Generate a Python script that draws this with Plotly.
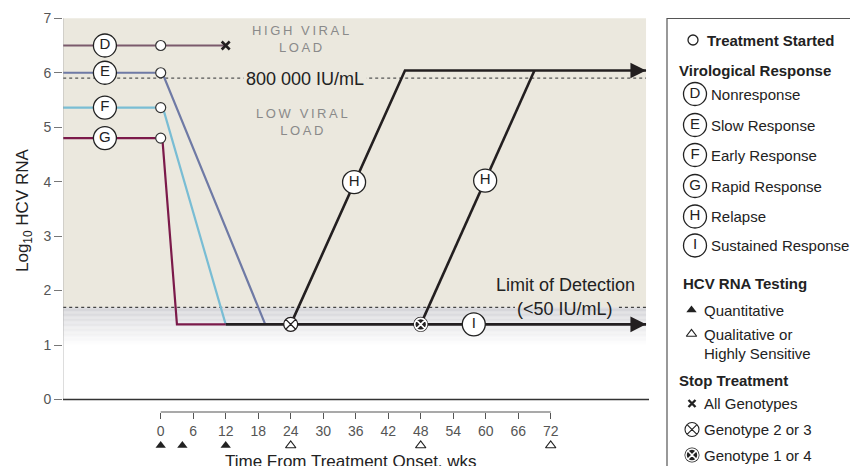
import plotly.graph_objects as go
import numpy as np

# ---------------- data ----------------
x_ticks = [0, 6, 12, 18, 24, 30, 36, 42, 48, 54, 60, 66, 72]
y_ticks = [0, 1, 2, 3, 4, 5, 6, 7]
quant_tests = [0, 4, 12]
qual_tests = [24, 48, 72]

start_week = -18.0
end_week = 89.6
undetect = 1.38
high_plateau = 6.04
viral_threshold = 5.9      # 800 000 IU/mL
detect_limit = 1.69        # <50 IU/mL

D_x = [start_week, 12.0]; D_y = [6.5, 6.5]
E_x = [start_week, 0.3, 19.3]; E_y = [6.0, 6.0, undetect]
F_x = [start_week, 0.4, 12.0]; F_y = [5.36, 5.36, undetect]
G_x = [start_week, 0.3, 3.0, 12.0]; G_y = [4.8, 4.8, undetect, undetect]
base_x = [12.0, end_week]; base_y = [undetect, undetect]
H1_x = [24.0, 45.1, end_week]; H1_y = [undetect, high_plateau, high_plateau]
H2_x = [48.0, 69.0]; H2_y = [undetect, high_plateau]

start_y = [6.5, 6.0, 5.36, 4.8]
letters_left = ["D", "E", "F", "G"]
letter_week = -10.3
H_label_x = [35.7, 59.9]; H_label_y = [3.99, 4.02]
I_label = (57.8, undetect)
stop_open = (24.0, undetect)
stop_filled = (48.0, undetect)
stop_all = (12.0, 6.5)

leg_letters = ["D", "E", "F", "G", "H", "I"]
leg_names = ["Nonresponse", "Slow Response", "Early Response", "Rapid Response",
             "Relapse", "Sustained Response"]

colD = "#7b5a6c"; colE = "#6f7aa5"; colF = "#79bdd4"; colG = "#7b1a4a"
BLACK = "#231f20"
BEIGE = "#ebe8de"
FONT = "Liberation Sans"

# ---------------- geometry helpers (reference pixel -> figure) ----------------
OFF = 8                      # page body margin
FW, FH = 858 - OFF, 466 - OFF
def fx(px): return (px - OFF) / FW
def fy(py): return (FH - (py - OFF)) / FH
def DX(px): return (px - 160.7) / 5.4167
def DY(py): return (399.5 - py) / 54.46

xr = [DX(63), DX(649)]
yr = [DY(466), DY(18)]

fig = go.Figure()
shapes = []
ann = []

# background regions
shapes.append(dict(type="rect", xref="x", yref="y", x0=start_week, x1=end_week,
                   y0=detect_limit, y1=7, fillcolor=BEIGE, line_width=0, layer="below"))
n = 30
top_c = np.array([212, 212, 216]); bot_c = np.array([255, 255, 255])
for i in range(n):
    y0 = detect_limit - (detect_limit - 1.0) * (i + 1) / n
    y1 = detect_limit - (detect_limit - 1.0) * i / n
    t = (i + 0.5) / n
    c = (top_c * (1 - t) + bot_c * t).astype(int)
    shapes.append(dict(type="rect", xref="x", yref="y", x0=start_week, x1=end_week,
                       y0=y0, y1=y1, fillcolor=f"rgb({c[0]},{c[1]},{c[2]})",
                       line_width=0, layer="below"))

# dotted reference lines
shapes.append(dict(type="line", xref="x", yref="y", x0=start_week, x1=end_week,
                   y0=viral_threshold, y1=viral_threshold,
                   line=dict(color="#555", width=1.2, dash="dot"), layer="below"))
shapes.append(dict(type="line", xref="x", yref="y", x0=start_week, x1=65.4,
                   y0=detect_limit, y1=detect_limit,
                   line=dict(color="#444", width=1.3, dash="dot"), layer="below"))
shapes.append(dict(type="line", xref="x", yref="y", x0=84.6, x1=end_week,
                   y0=detect_limit, y1=detect_limit,
                   line=dict(color="#444", width=1.3, dash="dot"), layer="below"))

# axes lines
shapes.append(dict(type="line", xref="x", yref="y", x0=DX(62.5), x1=DX(62.5), y0=0, y1=7,
                   line=dict(color="#777", width=1.5)))
shapes.append(dict(type="line", xref="x", yref="y", x0=DX(62), x1=DX(649), y0=0, y1=0,
                   line=dict(color="#333", width=1.3)))
shapes.append(dict(type="line", xref="x", yref="y", x0=0, x1=72, y0=DY(412), y1=DY(412),
                   line=dict(color="#555", width=1.2)))

# legend box (reference pixel coords on overlay axes)
shapes.append(dict(type="rect", xref="x2", yref="y2", x0=667, x1=880, y0=18.5, y1=480,
                   line=dict(color="#555", width=1.2), fillcolor="rgba(0,0,0,0)"))

# ---------------- lines ----------------
def line(x, y, c, w=2.2):
    fig.add_trace(go.Scatter(x=x, y=y, mode="lines", line=dict(color=c, width=w),
                             hoverinfo="skip", showlegend=False))

line(D_x, D_y, colD)
line(E_x, E_y, colE)
line(F_x, F_y, colF)
line(G_x, G_y, colG)
line(base_x, base_y, BLACK, 2.6)
line(H1_x, H1_y, BLACK, 2.6)
line(H2_x, H2_y, BLACK, 2.6)

# arrowheads
for yy in [high_plateau, undetect]:
    ann.append(dict(x=end_week, y=yy, ax=end_week - 3, ay=yy, xref="x", yref="y",
                    axref="x", ayref="y", showarrow=True, arrowhead=2, arrowsize=1.3,
                    arrowwidth=2.4, arrowcolor=BLACK, text=""))

# treatment start circles
fig.add_trace(go.Scatter(x=[0, 0, 0, 0], y=start_y, mode="markers",
                         marker=dict(size=10, color="white", line=dict(color="#333", width=1.2)),
                         hoverinfo="skip", showlegend=False))

def letter_markers(xs, ys, labels, size=23, fs=15, xa="x", ya="y"):
    fig.add_trace(go.Scatter(x=xs, y=ys, mode="markers+text", text=labels,
                             textposition="middle center",
                             textfont=dict(family=FONT, size=fs, color="#222"),
                             marker=dict(size=size, color="white", line=dict(color="#222", width=1.3)),
                             hoverinfo="skip", showlegend=False, cliponaxis=False,
                             xaxis=xa, yaxis=ya))

letter_markers([letter_week] * 4, start_y, letters_left)
letter_markers(H_label_x, H_label_y, ["H", "H"])
letter_markers([I_label[0]], [I_label[1]], ["I"])

def mk(xs, ys, marker, xa="x", ya="y"):
    fig.add_trace(go.Scatter(x=xs, y=ys, mode="markers", marker=marker,
                             hoverinfo="skip", showlegend=False, cliponaxis=False,
                             xaxis=xa, yaxis=ya))

# stop markers
mk([stop_all[0]], [stop_all[1]], dict(symbol="x-thin", size=8, line=dict(color=BLACK, width=2.6)))
mk([stop_open[0]], [stop_open[1]], dict(symbol="circle-x", size=14, color="white",
                                        line=dict(color=BLACK, width=1.3)))
mk([stop_filled[0]], [stop_filled[1]], dict(symbol="circle", size=15, color=BLACK))
mk([stop_filled[0]], [stop_filled[1]], dict(symbol="circle-x", size=12, color=BLACK,
                                            line=dict(color="white", width=1.6)))

# testing triangles under the axis
tri_y = DY(445.5)
mk(quant_tests, [tri_y] * len(quant_tests),
   dict(symbol="triangle-up", size=9, color="#222", line_width=0))
mk(qual_tests, [tri_y] * len(qual_tests),
   dict(symbol="triangle-up-open", size=9, color="#222", line=dict(width=1.2, color="#222")))

# ---------------- in-plot text ----------------
TS = "\u2009"
def spaced(s):
    return TS.join(list(s))

ann.append(dict(x=DX(300), y=DY(38.5), xref="x", yref="y", showarrow=False,
                text=spaced("HIGH VIRAL") + "<br>" + spaced("LOAD"),
                font=dict(family=FONT, size=13, color="#8a8a8a")))
ann.append(dict(x=DX(302), y=DY(122), xref="x", yref="y", showarrow=False,
                text=spaced("LOW VIRAL") + "<br>" + spaced("LOAD"),
                font=dict(family=FONT, size=13, color="#8a8a8a")))
ann.append(dict(x=DX(304.5), y=DY(79), xref="x", yref="y", showarrow=False,
                text="800 000 IU/mL", bgcolor=BEIGE, borderpad=2,
                font=dict(family=FONT, size=18, color="#222")))
ann.append(dict(x=DX(565), y=DY(285), xref="x", yref="y", showarrow=False,
                text="Limit of Detection", font=dict(family=FONT, size=18, color="#222")))
ann.append(dict(x=DX(564.5), y=DY(308.5), xref="x", yref="y", showarrow=False,
                text="(&lt;50 IU/mL)", font=dict(family=FONT, size=18, color="#222")))

# axis titles
ann.append(dict(x=24, y=210, xref="x2", yref="y2", showarrow=False,
                text="Log<sub>10</sub> HCV RNA", textangle=-90,
                font=dict(family=FONT, size=17, color="#222")))
ann.append(dict(x=351, y=461, xref="x2", yref="y2", showarrow=False,
                text="Time From Treatment Onset, wks",
                font=dict(family=FONT, size=17, color="#222")))

# ---------------- legend ----------------
def ltext(px, py, s, bold=False, size=15):
    ann.append(dict(x=px, y=py, xref="x2", yref="y2", showarrow=False,
                    xanchor="left", yanchor="middle",
                    text=("<b>%s</b>" % s) if bold else s,
                    font=dict(family=FONT, size=size, color="#222")))

mk([693], [40], dict(size=10, color="white", line=dict(color="#222", width=1.3)), "x2", "y2")
ltext(705, 40, "Treatment Started", bold=True)
ltext(677, 70, "Virological Response", bold=True)
leg_y = [94, 125, 155, 186, 216.5, 245.5]
letter_markers([695] * 6, leg_y, leg_letters, size=23, fs=15, xa="x2", ya="y2")
for name, yy in zip(leg_names, leg_y):
    ltext(709, yy, name)

ltext(681, 283.5, "HCV RNA Testing", bold=True)
mk([691.5], [310], dict(symbol="triangle-up", size=9, color="#222", line_width=0), "x2", "y2")
mk([691.5], [334], dict(symbol="triangle-up-open", size=9, color="#222",
                        line=dict(width=1.2, color="#222")), "x2", "y2")
ltext(702, 310, "Quantitative")
ltext(702, 334, "Qualitative or")
ltext(702, 353.5, "Highly Sensitive")

ltext(677, 380, "Stop Treatment", bold=True)
mk([692], [403.5], dict(symbol="x-thin", size=7, line=dict(color="#222", width=2.4)), "x2", "y2")
mk([692], [429.5], dict(symbol="circle-x", size=14, color="white",
                        line=dict(color="#222", width=1.1)), "x2", "y2")
mk([692], [455], dict(symbol="circle", size=15, color="#222"), "x2", "y2")
mk([692], [455], dict(symbol="circle-x", size=12, color="#222",
                      line=dict(color="white", width=1.6)), "x2", "y2")
ltext(702, 403.5, "All Genotypes")
ltext(702, 429.5, "Genotype 2 or 3")
ltext(702, 455, "Genotype 1 or 4")

fig.update_layout(
    width=FW, height=FH,
    margin=dict(l=0, r=0, t=0, b=0, pad=0, autoexpand=False),
    paper_bgcolor="white", plot_bgcolor="rgba(0,0,0,0)",
    shapes=shapes, annotations=ann,
    xaxis=dict(domain=[fx(63), fx(649)], range=xr, anchor="free", position=fy(412),
               tickvals=x_ticks, ticktext=[str(v) for v in x_ticks],
               ticks="outside", ticklen=6, tickcolor="#555", tickwidth=1.2,
               showgrid=False, zeroline=False, showline=False, automargin=False,
               tickfont=dict(family=FONT, size=14, color="#555")),
    yaxis=dict(domain=[0, fy(18)], range=yr, anchor="x",
               tickvals=y_ticks, ticktext=[str(v) for v in y_ticks],
               ticks="outside", ticklen=8, tickcolor="#777", tickwidth=1.3,
               showgrid=False, zeroline=False, showline=False, automargin=False,
               tickfont=dict(family=FONT, size=14, color="#555")),
    xaxis2=dict(domain=[0, 1], range=[OFF, 858], anchor="y2", visible=False),
    yaxis2=dict(domain=[0, 1], range=[466, OFF], anchor="x2", visible=False),
    showlegend=False,
)

fig.write_html("out.html")
